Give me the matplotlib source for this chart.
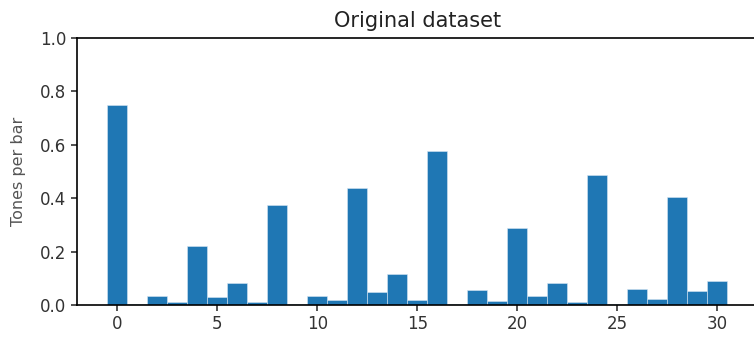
import matplotlib
matplotlib.use("Agg")
import matplotlib.pyplot as plt
import numpy as np

positions = list(range(31))
tones = [0.750, 0.003, 0.034, 0.012, 0.222, 0.029, 0.084, 0.012, 0.375, 0.004,
         0.035, 0.019, 0.440, 0.050, 0.115, 0.018, 0.577, 0.003, 0.056, 0.015,
         0.290, 0.034, 0.084, 0.012, 0.487, 0.003, 0.059, 0.022, 0.403, 0.052,
         0.091]
title = "Original dataset"
ylabel = "Tones per bar"

fig = plt.figure(figsize=(7.54, 3.38), dpi=100)
ax = fig.add_axes([76.5 / 754, 33 / 338, (758 - 76.5) / 754, 267 / 338])
ax.bar(positions, tones, width=1.0, color="#1f77b4", edgecolor="#d6e6f3", linewidth=0.4)
ax.set_xlim(-2.05, 32.05)
ax.set_ylim(0, 1.0)
ax.set_xticks([0, 5, 10, 15, 20, 25, 30])
ax.set_yticks([0.0, 0.2, 0.4, 0.6, 0.8, 1.0])
ax.set_title(title, fontsize=15, color="#222222", pad=8)
ax.set_ylabel(ylabel, fontsize=11.5, color="#555555", labelpad=10)
ax.tick_params(labelsize=12, colors="#333333", width=1.2, length=4)
for s in ax.spines.values():
    s.set_linewidth(1.2)
fig.savefig("out.png", dpi=100)
